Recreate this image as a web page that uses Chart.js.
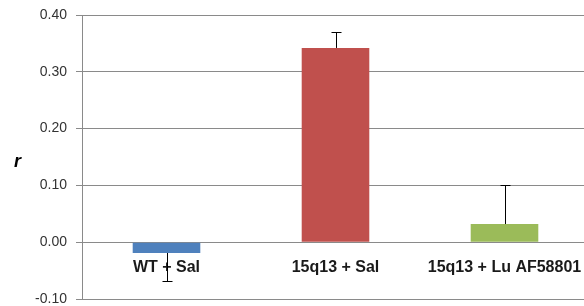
<!DOCTYPE html>
<html>
<head>
<meta charset="utf-8">
<script src="https://cdn.jsdelivr.net/npm/chart.js@4"></script>
<style>
  html, body { margin: 0; padding: 0; background: #fff; overflow: hidden; }
  #wrap { width: 592px; height: 306px; }
</style>
</head>
<body>
<div id="wrap"><canvas id="myChart" width="592" height="306"></canvas></div>
<script>
const groups = ["WT + Sal", "15q13 + Sal", "15q13 + Lu AF58801"];
const rValues = [-0.019, 0.342, 0.032];
const rErrors = [0.050, 0.028, 0.068];
const barColors = ["#4f81bd", "#c0504d", "#9bbb59"];
const yTicks = [-0.10, 0.00, 0.10, 0.20, 0.30, 0.40];

// error bars, drawn away from zero like the excel one
const errorBars = {
  id: 'errorBars',
  afterDatasetsDraw(chart) {
    const ctx = chart.ctx;
    const meta = chart.getDatasetMeta(0);
    const y = chart.scales.y;
    ctx.save();
    ctx.strokeStyle = '#000';
    ctx.lineWidth = 1;
    meta.data.forEach((bar, i) => {
      const v = rValues[i];
      const end = v < 0 ? v - rErrors[i] : v + rErrors[i];
      const x = Math.round(bar.x) + 0.5;
      const y0 = y.getPixelForValue(v);
      const y1 = Math.round(y.getPixelForValue(end)) + 0.5;
      ctx.beginPath();
      ctx.moveTo(x, y0);
      ctx.lineTo(x, y1);
      ctx.moveTo(x - 5, y1);
      ctx.lineTo(x + 5, y1);
      ctx.stroke();
    });
    ctx.restore();
  }
};

// the "r" label is upright, so not the rotated axis title
const rLabel = {
  id: 'rLabel',
  afterDraw(chart) {
    const ctx = chart.ctx;
    ctx.save();
    ctx.font = 'italic bold 18px "Liberation Sans", Arial, sans-serif';
    ctx.fillStyle = '#000';
    ctx.textAlign = 'left';
    ctx.textBaseline = 'middle';
    ctx.fillText('r', 14, 162);
    ctx.restore();
  }
};

const ctx = document.getElementById('myChart').getContext('2d');
const myChart = new Chart(ctx, {
  type: 'bar',
  data: {
    labels: groups,
    datasets: [{
      data: rValues,
      backgroundColor: barColors,
      borderWidth: 0,
      barPercentage: 0.4,
      categoryPercentage: 1.0
    }]
  },
  options: {
    responsive: false,
    animation: false,
    layout: { padding: { top: 15, right: 3, bottom: 7, left: 0 } },
    plugins: {
      legend: { display: false },
      tooltip: { enabled: false }
    },
    scales: {
      x: {
        position: { y: 0 },
        afterFit: axis => {
          axis.paddingLeft = 0;
          axis.paddingRight = 0;
        },
        grid: { display: false, drawTicks: false },
        border: { display: true, color: '#8a8a8a', width: 1 },
        ticks: {
          padding: 16,
          color: '#1a1a1a',
          font: { family: '"Liberation Sans", Arial, sans-serif', size: 16, weight: 'bold' }
        }
      },
      y: {
        min: -0.1,
        max: 0.4,
        afterBuildTicks: axis => { axis.ticks = yTicks.map(v => ({ value: v })); },
        afterFit: axis => {
          axis.width = 82;
          axis.paddingTop = 0;
          axis.paddingBottom = 0;
        },
        grid: { color: '#8a8a8a', lineWidth: 1, tickLength: 6, drawTicks: true },
        border: { display: true, color: '#8a8a8a', width: 1 },
        ticks: {
          padding: 9,
          color: '#333',
          font: { family: '"Liberation Sans", Arial, sans-serif', size: 14 },
          callback: v => v.toFixed(2)
        }
      }
    }
  },
  plugins: [errorBars, rLabel]
});
</script>
</body>
</html>
